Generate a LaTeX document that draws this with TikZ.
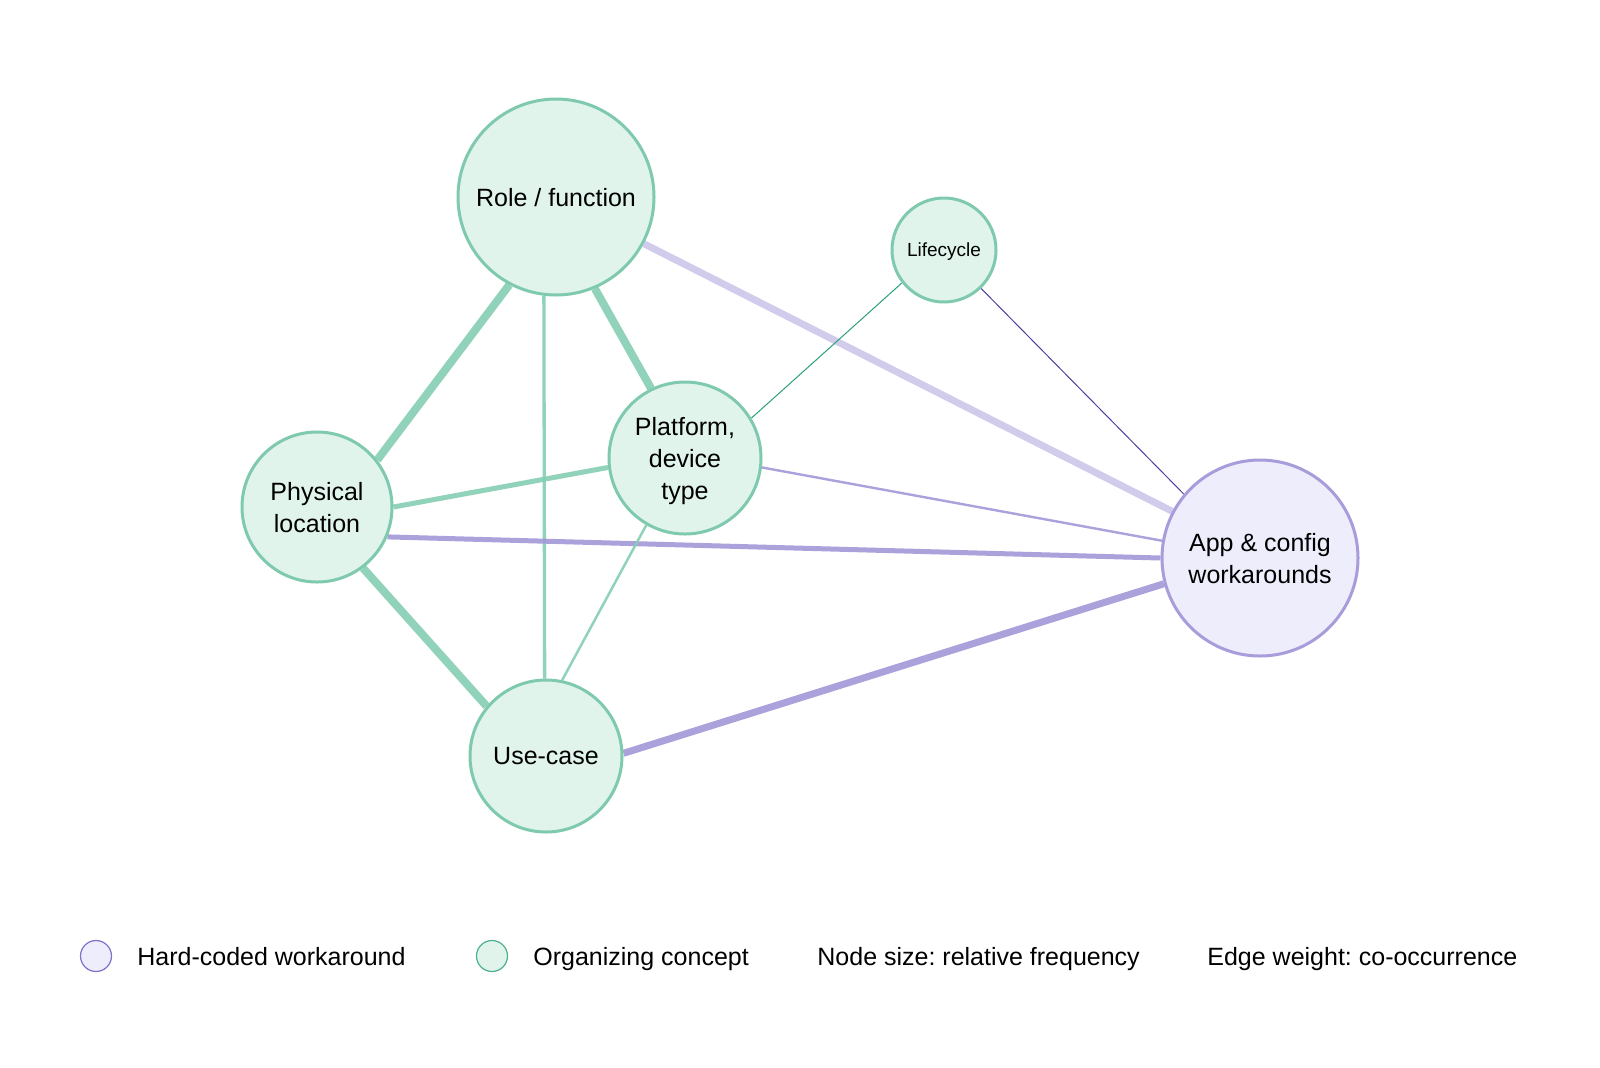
\documentclass[tikz,border=0pt]{standalone}
\usepackage{fontspec}
\setmainfont{Liberation Sans}
\usetikzlibrary{backgrounds}
\definecolor{gfill}{HTML}{E0F4EC}
\definecolor{gline}{HTML}{7FCAAF}
\definecolor{gedgec}{HTML}{86CEB4}
\definecolor{pfill}{HTML}{EEEDFC}
\definecolor{pline}{HTML}{A89CDB}
\definecolor{pedgec}{HTML}{A297D8}
\definecolor{ledgec}{HTML}{CFCAEC}
\definecolor{tthinc}{HTML}{2E9E7E}
\definecolor{ithinc}{HTML}{4A42A0}
\definecolor{lgline}{HTML}{4DB08F}
\definecolor{lpline}{HTML}{7D72C8}
\frenchspacing
\begin{document}
\begin{tikzpicture}[x=0.5pt,y=-0.5pt,
  concept/.style={circle, draw=gline, fill=gfill, line width=1.5pt, inner sep=0pt,
    align=center, text depth=0pt, font=\fontsize{12.5}{16}\selectfont},
  hard/.style={concept, draw=pline, fill=pfill},
  gedge/.style={draw=gedgec, opacity=0.9},
  pedge/.style={draw=pedgec, opacity=0.9},
  ledge/.style={draw=ledgec, opacity=0.95},
  tthin/.style={draw=tthinc, line width=0.5pt},
  ithin/.style={draw=ithinc, line width=0.5pt},
  legtext/.style={anchor=base west, inner sep=0pt, font=\fontsize{12.5}{15}\selectfont},
  legcircle/.style={circle, inner sep=0pt, minimum size=15.5pt, line width=0.6pt}]
\useasboundingbox (0,0) rectangle (1600,1067);

% nodes
\node[concept, minimum size=98pt] (role) at (556,197) {Role / function};
\node[concept, minimum size=52pt, font=\fontsize{9.5}{11}\selectfont] (life) at (944,250) {Lifecycle};
\node[concept, minimum size=76pt] (plat) at (685,458) {Platform,\\device\\type};
\node[concept, minimum size=75pt] (phys) at (317,507) {Physical\\location};
\node[concept, minimum size=76pt] (use) at (546,756) {Use-case};
\node[hard, minimum size=98pt] (app) at (1260,558) {App \& config\\workarounds};

% edges
\begin{pgfonlayer}{background}
\fill[white] (0,0) rectangle (1600,1067);
\draw[gedge, line width=4pt] (role.242) -- (phys.38);
\draw[gedge, line width=1.65pt] (role.263) -- (use.91.5);
\draw[gedge, line width=4pt] (role.293) -- (plat.116);
\draw[ledge, line width=3.5pt] (role.332) -- (app.152);
\draw[gedge, line width=2.5pt] (phys.0) -- (plat.187);
\draw[pedge, line width=2.5pt] (phys.337) -- (app.180);
\draw[gedge, line width=4pt] (phys.307) -- (use.140);
\draw[gedge, line width=1.25pt] (plat.240) -- (use.78);
\draw[tthin] (plat.31) -- (life.218);
\draw[pedge, line width=1.2pt] (plat.353) -- (app.170);
\draw[ithin] (life.314) -- (app.140);
\draw[pedge, line width=3.5pt] (use.2) -- (app.195);
\end{pgfonlayer}

% legend
\node[legcircle, draw=lpline, fill=pfill] (lh) at (96,956) {};
\node[legtext] (lht) at (137,965) {Hard-coded workaround};
\node[legcircle, draw=lgline, fill=gfill] (lc) at (492,956) {};
\node[legtext] (lct) at (533,965) {Organizing concept};
\node[legtext] (lns) at (817,965) {Node size: relative frequency};
\node[legtext] (lew) at (1207,965) {Edge weight: co-occurrence};
\end{tikzpicture}
\end{document}
